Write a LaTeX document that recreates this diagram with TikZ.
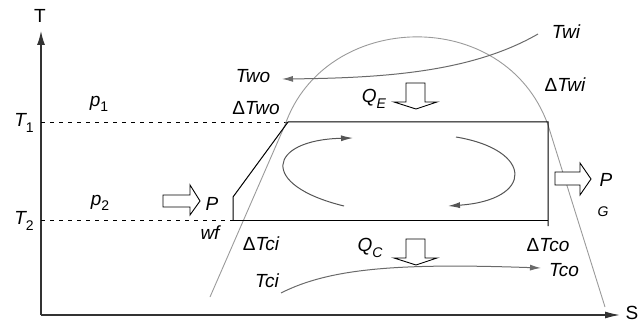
\documentclass[tikz,border=0pt]{standalone}
\usepackage{fontspec}
\setmainfont{Liberation Sans}
\usetikzlibrary{arrows.meta}
\definecolor{axisc}{HTML}{333333}
\definecolor{domec}{HTML}{9A9A9A}
\definecolor{flowc}{HTML}{6A6A6A}
\definecolor{cyclec}{HTML}{555555}
\tikzset{
  lbl/.style={inner sep=0pt,font=\fontsize{19}{22}\selectfont},
  lbls/.style={inner sep=0pt,font=\fontsize{14}{16}\selectfont},
  axisline/.style={draw=axisc,line width=1.3pt},
  dashline/.style={draw=black,line width=0.8pt,dash pattern=on 4pt off 5pt},
  cycline/.style={draw=black,line width=1pt},
  dome/.style={draw=domec,line width=0.9pt},
  flow/.style={draw=flowc,line width=1pt,-{Latex[length=11pt,width=6pt]}},
  cyc/.style={draw=cyclec,line width=1pt,-{Latex[length=12pt,width=6pt]}},
  hollow/.style={draw=black,fill=white,line width=0.9pt,line join=miter}
}
\newcommand{\sub}[1]{\raisebox{-0.3em}{\fontsize{14}{16}\selectfont #1}}
\begin{document}
\begin{tikzpicture}[x=1pt,y=-1pt]
\useasboundingbox (0,0) rectangle (644,323);
% key points
\coordinate (O) at (41,315);
\coordinate (Ytop) at (41,31);
\coordinate (Xend) at (620,315);
\coordinate (T1a) at (41,122);
\coordinate (T2a) at (41,220);
\coordinate (A) at (288,122);
\coordinate (B) at (548,122);
\coordinate (C) at (548,226);
\coordinate (D) at (233,220);
\coordinate (Dr) at (548,220);
\coordinate (E) at (233,197);
% axes
\draw[axisline,-{Latex[length=14pt,width=8pt]}] (O) -- (Ytop);
\draw[axisline,-{Latex[length=15pt,width=7pt]}] (O) -- (Xend);
\node[lbl] (Tax) at (40,16) {T};
\node[lbl] (Sax) at (632,313) {S};
% dashed isotherms
\draw[dashline] (T1a) -- (A);
\draw[dashline] (T2a) -- (D);
% saturation dome
\coordinate (d0) at (210,297);
\coordinate (d1) at (285,125);
\coordinate (d2) at (548,125);
\coordinate (d3) at (605,307);
\draw[dome] (d0) -- (d1) .. controls (325,10) and (505,5) .. (d2) -- (d3);
% cycle
\draw[cycline,line join=miter] (D) -- (E) -- (A) -- (B) -- (C);
\draw[cycline] (D) -- (Dr);
% cycle direction arrows
\coordinate (l0) at (344,206);
\coordinate (l1) at (353,138);
\coordinate (r0) at (456,137);
\coordinate (r1) at (448,206);
\draw[cyc] (l0) .. controls (258,185) and (268,140) .. (l1);
\draw[cyc] (r0) .. controls (534,150) and (534,200) .. (r1);
% water flow (evaporator)
\coordinate (tw0) at (538,34);
\coordinate (tw1) at (282,79);
\draw[flow] (tw0) .. controls (472,72) and (385,78) .. (tw1);
% cooling flow (condenser)
\coordinate (tc0) at (281,293);
\coordinate (tc1) at (541,268);
\draw[flow] (tc0) .. controls (330,268) and (400,263) .. (tc1);
% hollow arrows
\draw[hollow] (406,83) -- (425,83) -- (425,102) -- (437,102) -- (416,109) -- (394,102) -- (406,102) -- cycle;
\draw[hollow] (406,239) -- (425,239) -- (425,258) -- (437,258) -- (416,265) -- (394,258) -- (406,258) -- cycle;
\draw[hollow] (163,195) -- (190,195) -- (190,185) -- (200,201) -- (190,215) -- (190,207) -- (163,207) -- cycle;
\draw[hollow] (555,172) -- (580,172) -- (580,163) -- (591,179) -- (580,195) -- (580,185) -- (555,185) -- cycle;
% labels
\node[lbl] (lT1) at (24,123) {\itshape T\sub{\upshape 1}};
\node[lbl] (lT2) at (24,221) {\itshape T\sub{\upshape 2}};
\node[lbl] (lp1) at (99,104) {\itshape p\sub{\upshape 1}};
\node[lbl] (lp2) at (100,203) {\itshape p\sub{\upshape 2}};
\node[lbl] (lTwo) at (253,76) {\itshape Two};
\node[lbl] (lTwi) at (566,32) {\itshape Twi};
\node[lbl] (ldTwo) at (256,108) {Δ\itshape Two};
\node[lbl] (ldTwi) at (565,85) {Δ\itshape Twi};
\node[lbl] (lQE) at (374,99) {\itshape Q\sub{E}};
\node[lbl] (lQC) at (370,248) {\itshape Q\sub{C}};
\node[lbl] (lP) at (212,204) {\itshape P};
\node[lbl] (lwf) at (210,233) {\itshape wf};
\node[lbl] (lPG) at (606,180) {\itshape P};
\node[lbls] (lG) at (603,212) {\itshape G};
\node[lbl] (ldTci) at (261,244) {Δ\itshape Tci};
\node[lbl] (lTci) at (267,281) {\itshape Tci};
\node[lbl] (ldTco) at (548,245) {Δ\itshape Tco};
\node[lbl] (lTco) at (564,270) {\itshape Tco};
\end{tikzpicture}
\end{document}
